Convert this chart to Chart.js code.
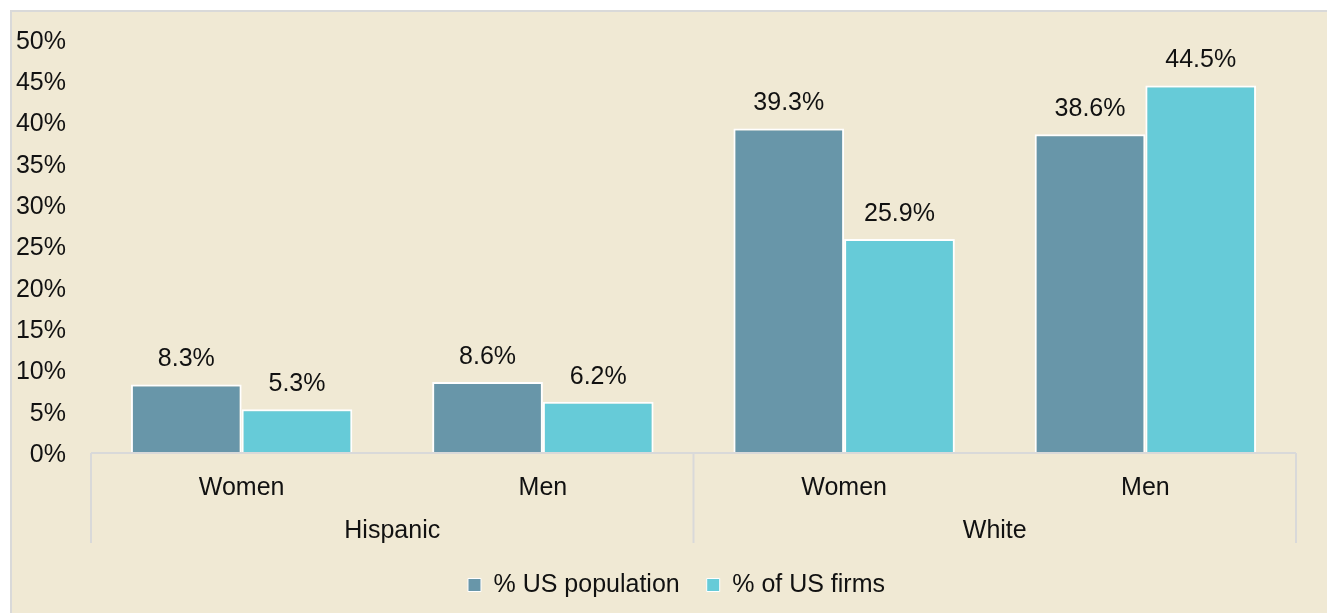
<!DOCTYPE html>
<html>
<head>
<meta charset="utf-8">
<script src="https://cdn.jsdelivr.net/npm/chart.js@4/dist/chart.umd.min.js"></script>
<style>
html,body{margin:0;padding:0;background:#fff;}
#wrap{position:relative;width:1327px;height:613px;}
</style>
</head>
<body>
<div id="wrap"><canvas id="c" width="1327" height="613"></canvas></div>
<script>
const categories = ['Women', 'Men', 'Women', 'Men'];
const groups = ['Hispanic', 'White'];
const populationPct = [8.3, 8.6, 39.3, 38.6];
const firmsPct = [5.3, 6.2, 25.9, 44.5];
const yTicks = [0, 5, 10, 15, 20, 25, 30, 35, 40, 45, 50];

const FONT = '"Liberation Sans", Arial, sans-serif';
const BG = '#F0E9D4';
const LINE = '#D9D9D9';

const framePlugin = {
  id: 'frame',
  beforeDraw(chart) {
    const ctx = chart.ctx;
    ctx.save();
    ctx.fillStyle = '#ffffff';
    ctx.fillRect(0, 0, chart.width, chart.height);
    ctx.fillStyle = BG;
    ctx.fillRect(10, 10, chart.width - 10, chart.height - 10);
    ctx.strokeStyle = LINE;
    ctx.lineWidth = 2;
    ctx.beginPath();
    ctx.moveTo(11, chart.height);
    ctx.lineTo(11, 11);
    ctx.lineTo(chart.width, 11);
    ctx.stroke();
    ctx.restore();
  },
  afterLayout(chart) {
    // centre the legend like the reference (slightly right of canvas centre)
    if (chart.legend) { chart.legend.left += 57; }
  }
};

const axisPlugin = {
  id: 'groupAxis',
  afterDraw(chart) {
    const ctx = chart.ctx;
    const xs = chart.scales.x;
    const area = chart.chartArea;
    const bottom = area.bottom;
    const sepBottom = bottom + 90;
    const mid = (xs.getPixelForTick(1) + xs.getPixelForTick(2)) / 2;
    ctx.save();
    ctx.strokeStyle = LINE;
    ctx.lineWidth = 2;
    ctx.beginPath();
    ctx.moveTo(xs.left, bottom);
    ctx.lineTo(xs.right, bottom);
    [xs.left, mid, xs.right].forEach(x => {
      ctx.moveTo(x, bottom);
      ctx.lineTo(x, sepBottom);
    });
    ctx.stroke();
    ctx.fillStyle = '#111';
    ctx.font = '25px ' + FONT;
    ctx.textAlign = 'center';
    ctx.textBaseline = 'middle';
    ctx.fillText(groups[0], (xs.left + mid) / 2, bottom + 78);
    ctx.fillText(groups[1], (mid + xs.right) / 2, bottom + 78);
    ctx.restore();
  },
  afterDatasetsDraw(chart) {
    const ctx = chart.ctx;
    ctx.save();
    ctx.fillStyle = '#111';
    ctx.font = '25px ' + FONT;
    ctx.textAlign = 'center';
    ctx.textBaseline = 'middle';
    chart.data.datasets.forEach((ds, di) => {
      const meta = chart.getDatasetMeta(di);
      meta.data.forEach((bar, i) => {
        ctx.fillText(ds.data[i].toFixed(1) + '%', bar.x, bar.y - 25);
      });
    });
    ctx.restore();
  }
};

new Chart(document.getElementById('c'), {
  type: 'bar',
  data: {
    labels: categories,
    datasets: [
      {
        label: '% US population',
        data: populationPct,
        backgroundColor: '#6896A9',
        borderColor: '#ffffff',
        borderWidth: 2,
        categoryPercentage: 0.735,
        barPercentage: 1.0
      },
      {
        label: '% of US firms',
        data: firmsPct,
        backgroundColor: '#66CBD8',
        borderColor: '#ffffff',
        borderWidth: 2,
        categoryPercentage: 0.735,
        barPercentage: 1.0
      }
    ]
  },
  options: {
    responsive: false,
    animation: false,
    devicePixelRatio: 1,
    layout: { padding: { top: 38, left: 0, right: 31, bottom: 5.5 } },
    plugins: {
      legend: {
        position: 'bottom',
        labels: {
          boxWidth: 13,
          boxHeight: 13,
          padding: 27,
          color: '#111',
          font: { family: FONT, size: 25 },
          generateLabels(chart) {
            return chart.data.datasets.map((ds, i) => ({
              text: ds.label,
              fillStyle: ds.backgroundColor,
              strokeStyle: '#ffffff',
              lineWidth: 1,
              hidden: false,
              datasetIndex: i,
              fontColor: '#111'
            }));
          }
        }
      },
      tooltip: { enabled: false }
    },
    scales: {
      x: {
        grid: { display: false, drawTicks: false },
        border: { display: false },
        ticks: { color: '#111', font: { family: FONT, size: 25 }, padding: 20 },
        afterFit(s) { s.height = 92.5; }
      },
      y: {
        min: 0,
        max: 50,
        afterBuildTicks(s) { s.ticks = yTicks.map(v => ({ value: v })); },
        grid: { display: false, drawTicks: false },
        border: { display: false },
        ticks: {
          color: '#111',
          font: { family: FONT, size: 25 },
          padding: 25,
          labelOffset: 2,
          callback: v => v + '%'
        },
        afterFit(s) { s.width = 91; }
      }
    }
  },
  plugins: [framePlugin, axisPlugin]
});
</script>
</body>
</html>
